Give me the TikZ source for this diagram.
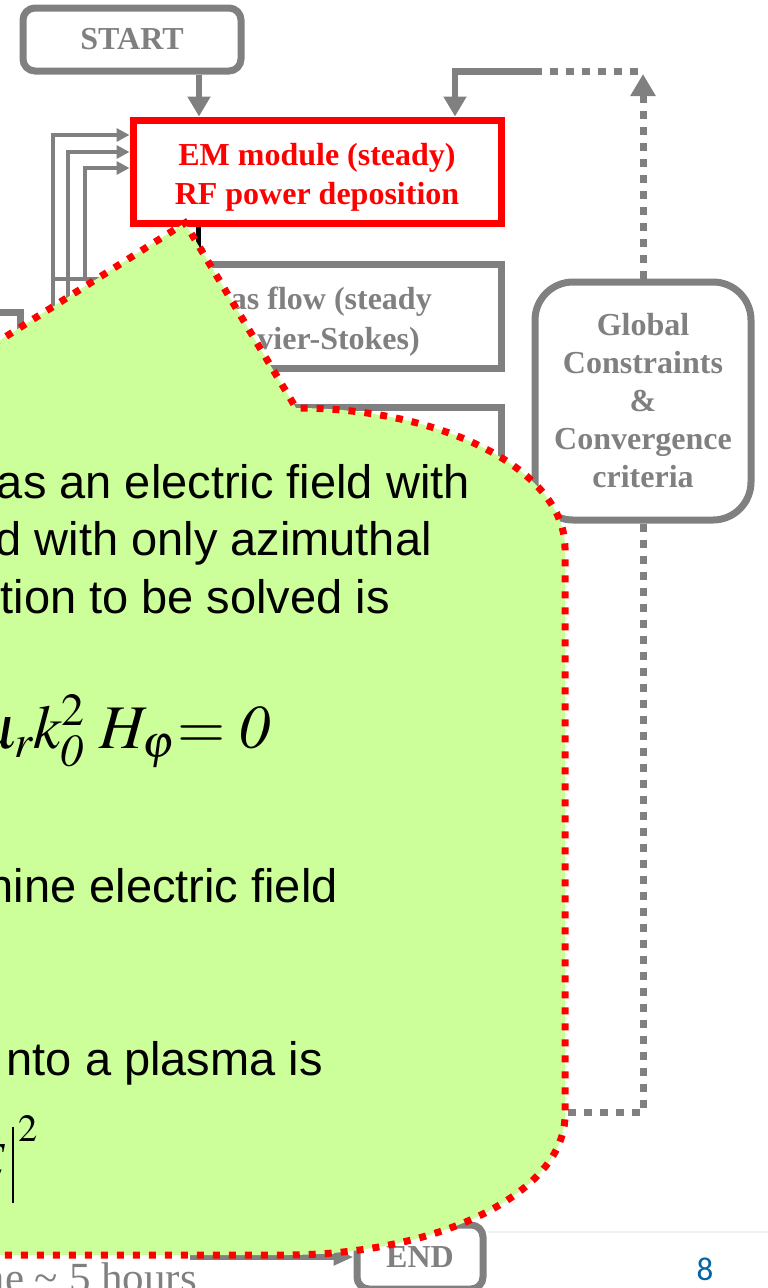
\documentclass[tikz,border=0pt]{standalone}
\usepackage{mathptmx}
\usepackage{fontspec}
\setmainfont{Liberation Serif}
\newfontfamily\arialfont{Liberation Sans}
\newfontfamily\slidenumfont{Carlito}
\usepackage{tikz}
\usetikzlibrary{arrows.meta}
\usetikzlibrary{calc}
\definecolor{flowgray}{RGB}{128,128,128}
\definecolor{calloutgreen}{RGB}{204,255,153}
\definecolor{slideblue}{RGB}{0,102,164}
\tikzset{
  flowbox/.style={draw=flowgray, line width=7pt, fill=white, text=flowgray,
    font=\fontsize{32}{38}\selectfont\bfseries, align=center, inner sep=0pt},
  embox/.style={flowbox, draw=red},
  flowline/.style={draw=flowgray, line width=6.5pt},
  flowarrow/.style={flowline, -{Triangle[length=20pt,width=22pt]}},
  thinline/.style={draw=flowgray, line width=3.5pt},
  thinarrow/.style={thinline, -{Triangle[length=13pt,width=13pt]}},
  dotline/.style={draw=flowgray, line width=7pt, dash pattern=on 8pt off 8pt},
  callout/.style={fill=calloutgreen, draw=red, line width=7pt, dash pattern=on 7pt off 9pt},
  callouttext/.style={anchor=base east, inner sep=0pt, font=\arialfont\fontsize{47}{57}\selectfont},
  mathtext/.style={anchor=base east, inner sep=0pt}
}

\begin{document}
\begin{tikzpicture}[x=1pt, y=-1pt]
\useasboundingbox (0,0) rectangle (768,1288);
\clip (0,0) rectangle (768,1288);
\fill[white] (0,0) rectangle (768,1288);

% flow chart boxes
\node[flowbox, rounded corners=12pt, minimum width=218pt, minimum height=63pt] (start) at (132,39.5) {START};
\node[embox, minimum width=368pt, minimum height=103pt] (em) at (317,171.5) {};
\node[align=center, inner sep=0pt, text=red, font=\fontsize{32}{39}\selectfont\bfseries] (emtext) at (317,177) {EM module (steady)\\RF power deposition};
\node[flowbox, minimum width=368pt, minimum height=104pt] (gas) at (317,316) {};
\node[flowbox, minimum width=368pt, minimum height=104pt] (plasma) at (317,459) {};
\node[flowbox, minimum width=200pt, minimum height=116pt] (leftbox) at (-80,370) {};
\node[flowbox, rounded corners=38pt, minimum width=216pt, minimum height=238pt] (global) at (643,401) {Global\\Constraints\\\&\\Convergence\\criteria};
\node[flowbox, rounded corners=12pt, minimum width=126pt, minimum height=64pt] (endbox) at (420,1257) {END};
\node[anchor=base east, inner sep=0pt, text=flowgray, font=\fontsize{32}{38}\selectfont\bfseries] (gastop) at (432,309) {as flow (steady};
\node[anchor=base east, inner sep=0pt, text=flowgray, font=\fontsize{32}{38}\selectfont\bfseries] (gasbottom) at (420,349) {vier-Stokes)};

% connectors
\draw[flowarrow] ([xshift=67pt]start.south) -- ([xshift=67pt]start.south |- em.north);
\coordinate (loopright) at (638,71.5);
\coordinate (loopsplit) at (540,71.5);
\coordinate (looptip) at (643,74);
\coordinate (loopin) at (520,1112);
\draw[dotline, -{Triangle[length=22pt,width=24pt]}] (global.north) -- (looptip);
\draw[dotline] (loopright) -- (loopsplit);
\draw[flowarrow] (loopsplit) -| ([xshift=138pt]em.north);
\draw[dotline] (global.south) |- (loopin);
\draw[draw=black, line width=5pt, -{Triangle[length=12pt,width=14pt]}] ([xshift=-119pt]em.south) -- ([xshift=-119pt]em.south |- gas.north);

\coordinate (srcA) at (53,480);
\coordinate (srcB) at (68,480);
\draw[thinarrow] (srcA) |- ([yshift=36.5pt]em.west);
\draw[thinarrow] (srcB) |- ([yshift=19.5pt]em.west);
\draw[thinarrow] ([yshift=37pt]gas.west) -- (85,279) |- ([yshift=3.5pt]em.west);
\draw[thinline] (53,279) -- (85,279);

\coordinate (cpuout) at (190,1257);
\draw[flowline, -{Triangle[length=20pt,width=16pt]}] (cpuout) -- (endbox.west);
\node[anchor=base east, inner sep=0pt, text=flowgray, font=\fontsize{43}{50}\selectfont] (cputime) at (197,1292) {me \textasciitilde{} 5 hours};

\draw[draw=black!6, line width=1.5pt] (488,1232) -- (768,1232);
\node[anchor=base, inner sep=0pt, text=slideblue, font=\slidenumfont\fontsize{33}{36}\selectfont] (slidenum) at (705,1280) {8};

% callout
\path[callout] (-150,1255) -- (-150,408) -- (-107,408) -- (185,223) -- (296,408)
  .. controls (444,408) and (565,470.7) .. (565,548) -- (565,1115)
  .. controls (565,1192.3) and (439.6,1255) .. (285,1255) -- cycle;

\node[callouttext] (fieldline) at (470,498) {as an electric field with};
\node[callouttext] (modeline) at (432,555) {d with only azimuthal};
\node[callouttext] (solveline) at (390,613) {tion to be solved is};
\node[mathtext, font=\fontsize{62}{64}\selectfont] (helmholtz) at (271,748) {$\mu_{r}k_{\mathit{0}}^{2}\mkern4mu H_{\varphi}\mkern1mu{=}\mkern4mu\mathit{0}$};
\node[callouttext] (efieldline) at (338,902) {hine electric field};
\node[callouttext] (plasmaline) at (323,1075) {nto a plasma is};
\node[mathtext, font=\fontsize{52}{60}\selectfont] (powerdens) at (38,1178) {$\mathit{E}\mkern2mu\rule[-25pt]{2.2pt}{76pt}^{\,2}$};
\end{tikzpicture}
\end{document}
